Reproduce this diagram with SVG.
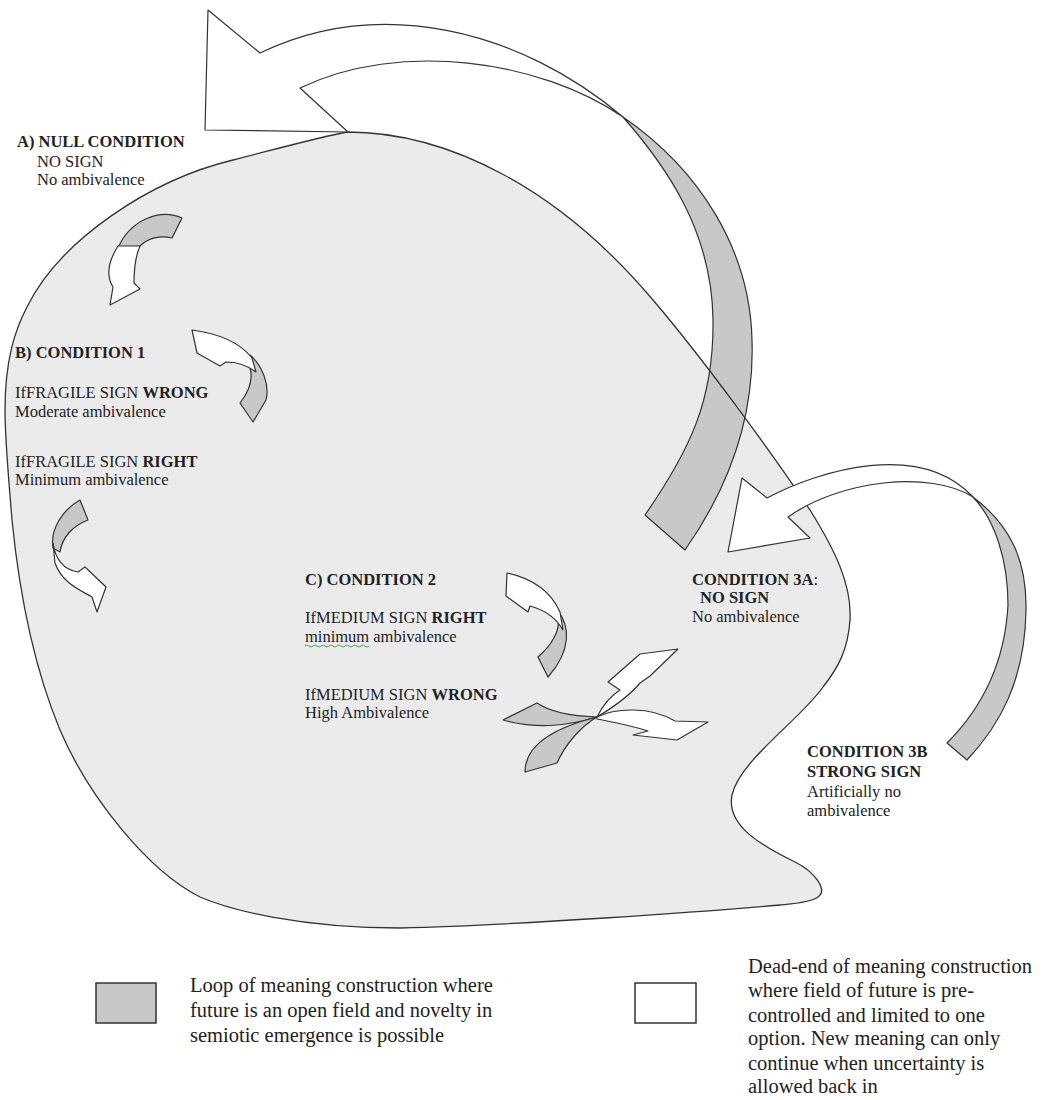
<svg xmlns="http://www.w3.org/2000/svg" width="1063" height="1100" viewBox="0 0 1063 1100">
<style>
.blob{fill:#ebebeb;stroke:#333;stroke-width:1.3}
.line{fill:none;stroke:#333;stroke-width:1.3}
.gray{fill:#c8c8c8;stroke:#333;stroke-width:1.2;stroke-linejoin:round}
.white{fill:#fff;stroke:#333;stroke-width:1.2;stroke-linejoin:round}
text{font-family:"Liberation Serif","Times New Roman",serif;fill:#222}
.t{font-size:16.5px}
.b{font-weight:bold}
.leg{font-size:20.5px}
</style>
<defs>
<path id="blobPath" d="M347,132 C450,132 560,190 653,300 C700,355 770,450 810,510 C835,550 852,585 850,620 C848,650 838,668 823,687 C800,720 740,760 732,795 C726,825 760,845 795,862 C815,872 828,890 818,897 C810,903 790,904 780,905 C700,912 520,925 400,928 C300,928 230,910 200,897 C150,872 90,800 60,730 C35,670 20,600 12,520 C8,470 5,440 5,410 C5,360 15,330 27,307 C60,240 150,180 233,160 C280,148 320,137 347,132 Z"/>
<path id="bigBand" d="M623,117 C665,165 712,230 713,320 C714,400 690,450 645,515 L685,550 C720,500 755,430 752,340 C750,250 700,170 623,117 Z"/>
<clipPath id="bandClip"><use href="#bigBand"/></clipPath>
</defs>

<g id="field">
<use href="#blobPath" class="blob"/>
</g>

<g id="connectors">
<g id="loop-top">
<use href="#bigBand" class="gray"/>
<g clip-path="url(#bandClip)"><use href="#blobPath" class="line"/></g>
<path class="white" d="M300,88 L348,132 L205,130 L208,10 L260,53 C380,-5 520,30 623,117 C540,60 400,40 300,88 Z"/>
</g>
<g id="loop-3a">
<path class="gray" d="M973,497 C995,520 1008,560 1008,605 C1005,660 985,705 947,743 L967,760 C1000,725 1025,680 1026,610 C1027,560 1010,525 973,497 Z"/>
<path class="white" d="M788,517 L810,538 L728,552 L742,478 L767,498 C820,470 920,440 973,497 C930,470 840,480 788,517 Z"/>
</g>
<g id="arrow-null">
<path class="gray" d="M182,218 C160,208 130,220 118,248 L140,246 C148,238 160,235 172,238 Z"/>
<path class="white" d="M118,246 C108,262 106,276 113,287 L110,305 L140,289 L134,283 C134,270 136,255 140,246 Z"/>
</g>
<g id="arrow-c1">
<path class="gray" d="M250,355 C262,365 270,385 266,400 L253,422 L240,403 C250,390 253,378 250,368 Z"/>
<path class="white" d="M192,330 C215,333 238,340 252,358 L256,372 C248,366 238,362 226,362 L220,366 L197,353 Z"/>
</g>
<g id="arrow-fragile-right">
<path class="gray" d="M80,500 C62,510 50,530 53,548 L60,552 C62,538 72,526 88,520 Z"/>
<path class="white" d="M53,543 C55,558 63,570 78,572 L85,567 L106,587 L97,612 L92,597 C80,590 62,583 55,563 Z"/>
</g>
<g id="arrow-c2">
<path class="gray" d="M557,610 C570,625 572,650 548,677 L538,657 C552,645 560,630 558,620 Z"/>
<path class="white" d="M507,573 C530,578 550,590 560,612 L563,630 C556,618 545,610 530,606 L528,612 L506,596 Z"/>
</g>
<g id="arrow-burst">
<path class="gray" d="M503,720 L537,703 C550,712 570,716 597,717 C570,725 540,730 503,720 Z"/>
<path class="gray" d="M525,772 C525,750 545,730 597,717 C580,727 565,745 557,763 Z"/>
<path class="white" d="M597,717 C603,705 612,695 620,690 L608,682 L640,654 L678,649 L650,676 L640,683 C630,695 612,708 597,717 Z"/>
<path class="white" d="M597,717 C615,708 650,706 675,721 L708,722 L677,740 L633,735 L648,731 C630,725 612,722 597,719 Z"/>
</g>
</g>

<g id="label-null">
<text class="t b" x="17" y="147">A) NULL CONDITION</text>
<text class="t" x="37" y="167">NO SIGN</text>
<text class="t" x="37" y="185">No ambivalence</text>
</g>
<g id="label-c1">
<text class="t b" x="15" y="358">B) CONDITION 1</text>
<text class="t" x="15" y="398">IfFRAGILE SIGN <tspan class="b">WRONG</tspan></text>
<text class="t" x="15" y="417">Moderate ambivalence</text>
<text class="t" x="15" y="467">IfFRAGILE SIGN <tspan class="b">RIGHT</tspan></text>
<text class="t" x="15" y="485">Minimum ambivalence</text>
</g>
<g id="label-c2">
<text class="t b" x="305" y="585">C) CONDITION 2</text>
<text class="t" x="305" y="623">IfMEDIUM SIGN <tspan class="b">RIGHT</tspan></text>
<text class="t" x="305" y="642">minimum ambivalence</text>
<path d="M305,646 q2,-2 4,0 t4,0 t4,0 t4,0 t4,0 t4,0 t4,0 t4,0 t4,0 t4,0 t4,0 t4,0 t4,0 t4,0 t4,0 t4,0" fill="none" stroke="#5aa05a" stroke-width="1"/>
<text class="t" x="305" y="700">IfMEDIUM SIGN <tspan class="b">WRONG</tspan></text>
<text class="t" x="305" y="718">High Ambivalence</text>
</g>
<g id="label-c3a">
<text class="t" x="692" y="585"><tspan class="b">CONDITION 3A</tspan>:</text>
<text class="t b" x="700" y="603">NO SIGN</text>
<text class="t" x="692" y="622">No ambivalence</text>
</g>
<g id="label-c3b">
<text class="t b" x="807" y="757">CONDITION 3B</text>
<text class="t b" x="807" y="777">STRONG SIGN</text>
<text class="t" x="807" y="797">Artificially no</text>
<text class="t" x="807" y="816">ambivalence</text>
</g>

<g id="legend-loop">
<rect x="96" y="983" width="60" height="40" fill="#c8c8c8" stroke="#333" stroke-width="1.5"/>
<text class="leg" x="190" y="992">Loop of meaning construction where</text>
<text class="leg" x="190" y="1017">future is an open field and novelty in</text>
<text class="leg" x="190" y="1042">semiotic emergence is possible</text>
</g>
<g id="legend-deadend">
<rect x="635" y="983" width="61" height="40" fill="#fff" stroke="#333" stroke-width="1.5"/>
<text class="leg" x="748" y="973">Dead-end of meaning construction</text>
<text class="leg" x="748" y="997">where field of future is pre-</text>
<text class="leg" x="748" y="1022">controlled and limited to one</text>
<text class="leg" x="748" y="1045">option. New meaning can only</text>
<text class="leg" x="748" y="1070">continue when uncertainty is</text>
<text class="leg" x="748" y="1093">allowed back in</text>
</g>
</svg>
